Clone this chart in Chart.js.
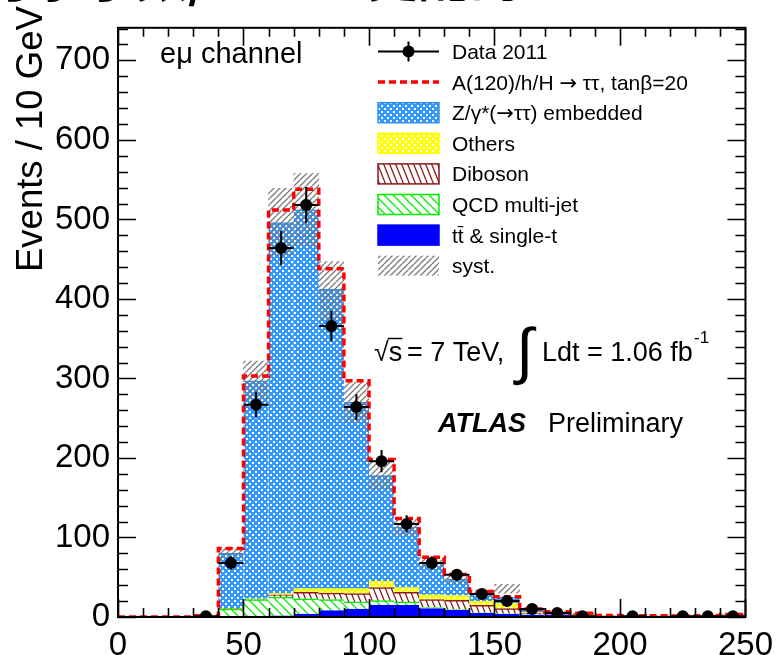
<!DOCTYPE html>
<html>
<head>
<meta charset="utf-8">
<script src="https://cdn.jsdelivr.net/npm/chart.js@4.4.1/dist/chart.umd.min.js"></script>
<style>
  html, body { margin: 0; padding: 0; background: #fff; overflow: hidden; }
  #wrap { position: relative; width: 782px; height: 655px; overflow: hidden; }
  #sensorChart { position: absolute; left: 0; top: 0; }
  #title { position: absolute; left: -20px; top: -51px; font: bold 52px "Noto Sans CJK SC"; line-height: 1; white-space: nowrap; color: #000; }
</style>
</head>
<body>
<div id="wrap">
  <canvas id="sensorChart" width="782" height="655"></canvas>
  <div id="title">可求子数/2 9 03 更配的</div>
</div>
<script>
// mass bins, 10 GeV wide (low edges)
var binWidth = 10;
var binLow = [0, 10, 20, 30, 40, 50, 60, 70, 80, 90, 100, 110, 120, 130, 140, 150, 160, 170, 180, 190, 200, 210, 220, 230, 240];
var xTicks = [0, 50, 100, 150, 200, 250];
var yMax = 741;

// observed events per bin
var dataCounts = [null, null, null, 1, 68, 267, 464, 518, 366, 264, 196, 117, 68, 53, 29, 20, 10, 5, 1, null, 1, null, 1, 1, 1];

// stacked expectations, bottom to top
var ttbar   = [0, 0, 0, 0.5, 0.5, 1, 1.5, 3.7, 8, 10, 15, 14.7, 10.6, 8.6, 4.5, 3.3, 2.5, 2, 1.5, 0.7, 0.5, 0.4, 0.4, 0.5, 0.8];
var qcd     = [0, 0, 0, 0, 9.5, 21, 23.5, 19.3, 14, 9, 5.5, 4.3, 1.4, 0.8, 0.8, 0.7, 0.3, 0.2, 0.2, 0.1, 0.1, 0.1, 0.1, 0.1, 0.1];
var diboson = [0, 0, 0, 0, 0.5, 0.5, 3, 8, 8, 10.5, 16.5, 12, 10, 11.6, 9.4, 6.7, 2.2, 1.3, 0.9, 0.3, 0.3, 0.3, 0.3, 0.3, 0.3];
var others  = [0, 0, 0, 0, 0.5, 0.5, 1.5, 4.6, 5.6, 6.1, 8, 6, 6, 6, 5, 6.3, 1, 0.5, 0.5, 0.2, 0.2, 0.2, 0.2, 0.2, 1.5];
var ztautau = [0, 0, 0, 1, 69, 274, 466.5, 476.4, 376.4, 234.4, 133, 76, 40, 20.5, 10.3, 8, 3, 2, 1, 0.6, 0.6, 0.5, 0.4, 0.6, 0.4];
var signal  = [0, 0, 0, 0, 6, 6, 16, 26, 26, 27, 20, 11, 7, 6, 2, 0.5, 1, 0.5, 0.5, 0, 0, 0, 0, 0, 0];

// systematic band edges
var systLow  = [null, null, null, null, 75, 272, 455, 467, 373, 245, 160, 103, 61, 42, 26, 30, 7, 4.5, 3, null, null, null, null, null, null];
var systHigh = [null, null, null, null, 87, 322, 539, 558, 447, 295, 195, 123, 75, 53, 34, 41, 11, 7, 5, null, null, null, null, null, null];

var FONT = '"Liberation Sans", Arial, Helvetica, sans-serif';
var SYM = '"DejaVu Sans", sans-serif';
var canvas = document.getElementById('sensorChart');
var ctx = canvas.getContext('2d');

function makePattern(w, h, draw) {
  var c = document.createElement('canvas');
  c.width = w; c.height = h;
  draw(c.getContext('2d'), w, h);
  return ctx.createPattern(c, 'repeat');
}
// coloured fill with a diagonal grid of white dots
function dots(bg) {
  return makePattern(6, 6, function (g) {
    g.fillStyle = bg; g.fillRect(0, 0, 6, 6);
    g.fillStyle = '#ffffff';
    g.fillRect(0, 0, 2, 2); g.fillRect(3, 3, 2, 2);
  });
}
// dir 1 draws "\" lines, dir -1 draws "/" lines
function hatch(w, h, color, lw, dir, bg) {
  return makePattern(w, h, function (g) {
    if (bg) { g.fillStyle = bg; g.fillRect(0, 0, w, h); }
    g.strokeStyle = color; g.lineWidth = lw;
    g.beginPath();
    for (var k = -1; k <= 1; k++) {
      if (dir > 0) { g.moveTo(k * w, 0); g.lineTo(k * w + w, h); }
      else { g.moveTo(k * w, h); g.lineTo(k * w + w, 0); }
    }
    g.stroke();
  });
}

var zColor = '#2f8ff0', othColor = '#ffff00', dibColor = '#8b1a1a', qcdColor = '#00ee00', ttColor = '#0000ff';
var zFill = dots('#3399ff');
var othFill = dots('#ffff00');
var dibFill = hatch(6, 15, dibColor, 1.3, 1, '#ffffff');
var qcdFill = hatch(9, 9, qcdColor, 1.3, 1, '#ffffff');
var systFill = hatch(6, 6, '#7a7a7a', 1.3, -1, null);

function binned(arr) {
  return binLow.map(function (lo, i) { return { x: lo + binWidth / 2, y: arr[i] }; });
}
function stackBar(label, arr, fill, line) {
  return {
    type: 'bar', label: label, data: binned(arr), order: 3,
    backgroundColor: fill, borderColor: line,
    borderWidth: { top: 1.5, left: 0, right: 0, bottom: 0 }, borderSkipped: false,
    grouped: false, barPercentage: 1, categoryPercentage: 1
  };
}

var totalWithSignal = binLow.map(function (lo, i) {
  return { x: lo, y: ttbar[i] + qcd[i] + diboson[i] + others[i] + ztautau[i] + signal[i] };
});
totalWithSignal.push({ x: binLow[binLow.length - 1] + binWidth, y: totalWithSignal[totalWithSignal.length - 1].y });

var systBand = [];
binLow.forEach(function (lo, i) {
  if (systLow[i] !== null) systBand.push({ x: lo + binWidth / 2, y: [systLow[i], systHigh[i]] });
});
var dataPoints = [];
binLow.forEach(function (lo, i) {
  if (dataCounts[i] !== null) dataPoints.push({ x: lo + binWidth / 2, y: dataCounts[i] });
});

// error bars: full bin width, sqrt(N) vertically
var errorBars = {
  id: 'errorBars',
  afterDatasetsDraw: function (chart) {
    var xs = chart.scales.x2, ys = chart.scales.y2, c = chart.ctx;
    c.save();
    c.strokeStyle = '#000'; c.lineWidth = 2;
    c.beginPath();
    binLow.forEach(function (lo, i) {
      var n = dataCounts[i];
      if (n === null) return;
      var err = Math.sqrt(n);
      var py = ys.getPixelForValue(n), px = xs.getPixelForValue(lo + binWidth / 2);
      c.moveTo(xs.getPixelForValue(lo), py); c.lineTo(xs.getPixelForValue(lo + binWidth), py);
      c.moveTo(px, ys.getPixelForValue(Math.max(0, n - err))); c.lineTo(px, ys.getPixelForValue(n + err));
    });
    c.stroke();
    c.restore();
  }
};

// frame with inward ticks on all four sides
var frame = {
  id: 'frame',
  afterDraw: function (chart) {
    var a = chart.chartArea, c = chart.ctx, xs = chart.scales.x, ys = chart.scales.y;
    c.save();
    c.strokeStyle = '#000';
    c.lineWidth = 1.6;
    c.beginPath();
    for (var v = 0; v <= 250; v += 10) {
      var len = v % 50 === 0 ? 18 : 9;
      var px = Math.round(xs.getPixelForValue(v)) + 0.5;
      c.moveTo(px, a.bottom); c.lineTo(px, a.bottom - len);
      c.moveTo(px, a.top); c.lineTo(px, a.top + len);
    }
    for (var w = 0; w <= yMax; w += 20) {
      var l2 = w % 100 === 0 ? 18 : 10;
      var py = Math.round(ys.getPixelForValue(w)) + 0.5;
      c.moveTo(a.left, py); c.lineTo(a.left + l2, py);
      c.moveTo(a.right, py); c.lineTo(a.right - l2, py);
    }
    c.stroke();
    c.lineWidth = 2;
    c.strokeRect(a.left, a.top, a.right - a.left, a.bottom - a.top);
    c.restore();
  }
};

// legend text pieces: [text, font family]; arrows come from DejaVu
var legendRows = [
  [['Data 2011', FONT]],
  [['A(120)/h/H ', FONT], ['→', SYM], [' ττ, tanβ=20', FONT]],
  [['Z/γ*(', FONT], ['→', SYM], ['ττ) embedded', FONT]],
  [['Others', FONT]],
  [['Diboson', FONT]],
  [['QCD multi-jet', FONT]],
  [['tt̄ & single-t', FONT]],
  [['syst.', FONT]]
];

function richText(c, parts, x, y, size) {
  parts.forEach(function (p) {
    c.font = size + 'px ' + p[1];
    c.fillText(p[0], x, y);
    x += c.measureText(p[0]).width;
  });
}

var annotations = {
  id: 'annotations',
  afterDraw: function (chart) {
    var c = chart.ctx;
    c.save();
    c.fillStyle = '#000';
    c.textBaseline = 'alphabetic';

    // axis title
    c.save();
    c.translate(42, 272);
    c.rotate(-Math.PI / 2);
    c.font = '36.5px ' + FONT;
    c.fillText('Events / 10 GeV', 0, 0);
    c.restore();

    c.font = '29px ' + FONT;
    c.fillText('eμ channel', 160, 63);

    // legend
    var bx = 378, bw = 61, bh = 20, tx = 452, y0 = 51.5, dy = 30.6;
    var fills = [null, null, zFill, othFill, dibFill, qcdFill, ttColor, systFill];
    var lines = [null, null, zColor, othColor, dibColor, qcdColor, ttColor, null];
    legendRows.forEach(function (parts, i) {
      var cy = y0 + i * dy;
      c.fillStyle = '#000';
      richText(c, parts, tx, cy + 7.5, 21);
      c.lineWidth = 1.5;
      if (i === 0) {
        c.strokeStyle = '#000'; c.lineWidth = 2;
        c.beginPath(); c.moveTo(bx, cy); c.lineTo(bx + bw, cy);
        c.moveTo(bx + bw / 2, cy - 10); c.lineTo(bx + bw / 2, cy + 10); c.stroke();
        c.beginPath(); c.arc(bx + bw / 2, cy, 6, 0, Math.PI * 2); c.fill();
      } else if (i === 1) {
        c.save();
        c.strokeStyle = '#ff0000'; c.lineWidth = 3.5; c.setLineDash([7, 4]);
        c.beginPath(); c.moveTo(bx, cy); c.lineTo(bx + bw, cy); c.stroke();
        c.restore();
      } else {
        c.fillStyle = fills[i];
        c.fillRect(bx, cy - bh / 2, bw, bh);
        if (lines[i]) { c.strokeStyle = lines[i]; c.strokeRect(bx, cy - bh / 2, bw, bh); }
      }
    });

    // energy and luminosity
    c.fillStyle = '#000';
    c.font = '27px ' + FONT;
    c.fillText('√', 374, 361);
    var rw = c.measureText('√').width;
    c.fillText('s', 374 + rw, 361);
    var sw = c.measureText('s').width;
    c.lineWidth = 1.5; c.strokeStyle = '#000';
    c.beginPath(); c.moveTo(374 + rw - 1, 338.5); c.lineTo(374 + rw + sw, 338.5); c.stroke();
    c.fillText('= 7 TeV,', 407, 361);
    c.font = '62px ' + FONT;
    c.fillText('∫', 516, 372);
    c.font = '27px ' + FONT;
    c.fillText('Ldt = 1.06 fb', 542, 361);
    c.font = '17px ' + FONT;
    c.fillText('-1', 694, 343);

    c.font = 'italic bold 27px ' + FONT;
    c.fillText('ATLAS', 438, 432);
    c.font = '27px ' + FONT;
    c.fillText('Preliminary', 548, 432);
    c.restore();
  }
};

var chart = new Chart(ctx, {
  type: 'bar',
  data: {
    datasets: [
      stackBar('tt & single-t', ttbar, ttColor, ttColor),
      stackBar('QCD multi-jet', qcd, qcdFill, qcdColor),
      stackBar('Diboson', diboson, dibFill, dibColor),
      stackBar('Others', others, othFill, othColor),
      stackBar('Z embedded', ztautau, zFill, zColor),
      {
        type: 'bar', label: 'syst.', data: systBand, order: 2,
        xAxisID: 'x2', yAxisID: 'y2',
        backgroundColor: systFill, borderWidth: 0,
        grouped: false, barPercentage: 1, categoryPercentage: 1
      },
      {
        type: 'line', label: 'signal', data: totalWithSignal, order: 1,
        xAxisID: 'x2', yAxisID: 'y2',
        borderColor: '#ff0000', borderWidth: 3.5, borderDash: [7, 4],
        stepped: true, pointRadius: 0, fill: false
      },
      {
        type: 'line', label: 'Data 2011', data: dataPoints, order: 0,
        xAxisID: 'x2', yAxisID: 'y2', showLine: false,
        pointRadius: 6, pointBackgroundColor: '#000', pointBorderWidth: 0
      }
    ]
  },
  options: {
    responsive: false,
    animation: false,
    devicePixelRatio: 1,
    layout: { padding: { top: 13, right: 32, left: 0, bottom: 0 } },
    plugins: { legend: { display: false }, tooltip: { enabled: false } },
    scales: {
      x: {
        type: 'linear', min: 0, max: 250, offset: false, stacked: true,
        grid: { display: false, drawTicks: false }, border: { display: false },
        afterBuildTicks: function (s) { s.ticks = xTicks.map(function (v) { return { value: v }; }); },
        ticks: { autoSkip: false, maxRotation: 0, padding: 9, color: '#000', font: { family: FONT, size: 33 } },
        afterFit: function (s) { s.height = 38; }
      },
      y: {
        type: 'linear', min: 0, max: yMax, stacked: true,
        grid: { display: false, drawTicks: false }, border: { display: false },
        ticks: { stepSize: 100, includeBounds: false, autoSkip: false, padding: 8, color: '#000', font: { family: FONT, size: 33 } },
        afterFit: function (s) { s.width = 118; }
      },
      x2: { type: 'linear', min: 0, max: 250, offset: false, display: false },
      y2: { type: 'linear', min: 0, max: yMax, display: false }
    }
  },
  plugins: [errorBars, frame, annotations]
});
</script>
</body>
</html>
